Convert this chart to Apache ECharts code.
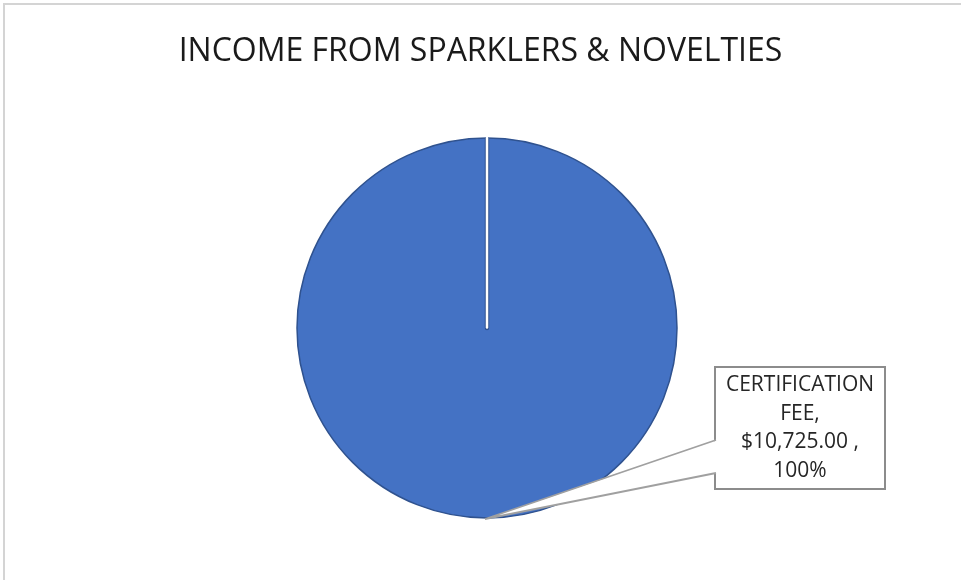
<!DOCTYPE html>
<html><head><meta charset="utf-8">
<script src="https://cdn.jsdelivr.net/npm/echarts@6/dist/echarts.min.js"></script>
<style>html,body{margin:0;padding:0;background:#fff;}#c{width:961px;height:580px;}</style>
</head><body><div id="c"></div>
<script>
const title = 'INCOME FROM SPARKLERS & NOVELTIES';
const categories = ['CERTIFICATION FEE'];
const values = [10725];

const FONT = '"Open Sans", "Noto Sans", sans-serif';
const LABEL_X = 800, LABEL_Y = 428, LABEL_W = 152, LABEL_PAD = 8;
const chart = echarts.init(document.getElementById('c'), null, {renderer: 'canvas'});
chart.setOption({
  animation: false,
  backgroundColor: '#fff',
  title: {
    text: title, left: 'center', top: 31,
    textStyle: {fontFamily: FONT, fontSize: 32, fontWeight: 'normal', color: '#1a1a1a'}
  },
  series: [{
    type: 'pie',
    center: [487, 328],
    radius: 190,
    startAngle: 90,
    clockwise: true,
    itemStyle: {color: '#4472C4', borderColor: '#2F528F', borderWidth: 1.5},
    label: {
      show: true,
      position: 'outside',
      formatter: p => p.name.replace(' ', '\n') + ',\n$' +
        p.value.toLocaleString('en-US', {minimumFractionDigits: 2, maximumFractionDigits: 2}) +
        ' ,\n' + Math.round(p.percent) + '%',
      fontFamily: FONT, fontSize: 21, color: '#262626', lineHeight: 28.5,
      align: 'center', width: LABEL_W,
      backgroundColor: '#fff', borderColor: '#8c8c8c', borderWidth: 2,
      padding: [3, LABEL_PAD, 3, LABEL_PAD]
    },
    labelLine: {show: false},
    labelLayout: {x: LABEL_X, y: LABEL_Y, align: 'center', verticalAlign: 'middle'},
    emphasis: {disabled: true},
    data: categories.map((n, i) => ({name: n, value: values[i]}))
  }]
});

// decorations derived from the library's own pie layout
const lay = chart.getModel().getSeriesByIndex(0).getData().getItemLayout(0);
const cx = lay.cx, cy = lay.cy, r = lay.r;
const anchor = [cx - 2, cy + r + 1];
const boxLeft = LABEL_X - (LABEL_W + 2 * LABEL_PAD) / 2;
const pTop = [boxLeft, 440], pBot = [boxLeft, 473];
chart.setOption({
  graphic: [
    {type: 'rect', silent: true, z: -1,
      shape: {x: 4, y: 4, width: 1200, height: 1200},
      style: {fill: 'none', stroke: '#d4d4d4', lineWidth: 2}},
    {type: 'line', silent: true, z: 50,
      shape: {x1: cx, y1: cy - r + 1, x2: cx, y2: cy},
      style: {stroke: '#2F528F', lineWidth: 4.5, lineCap: 'round'}},
    {type: 'line', silent: true, z: 51,
      shape: {x1: cx, y1: cy - r - 1, x2: cx, y2: cy - 0.5},
      style: {stroke: '#ffffff', lineWidth: 2.5, lineCap: 'round'}},
    {type: 'polygon', silent: true, z: 60,
      shape: {points: [anchor, [pTop[0] + 2, pTop[1]], [pBot[0] + 2, pBot[1]]]},
      style: {fill: '#ffffff'}},
    {type: 'polyline', silent: true, z: 61,
      shape: {points: [pTop, anchor, pBot]},
      style: {stroke: '#a0a0a0', lineWidth: 1.8, fill: 'none'}}
  ]
});
</script></body></html>
